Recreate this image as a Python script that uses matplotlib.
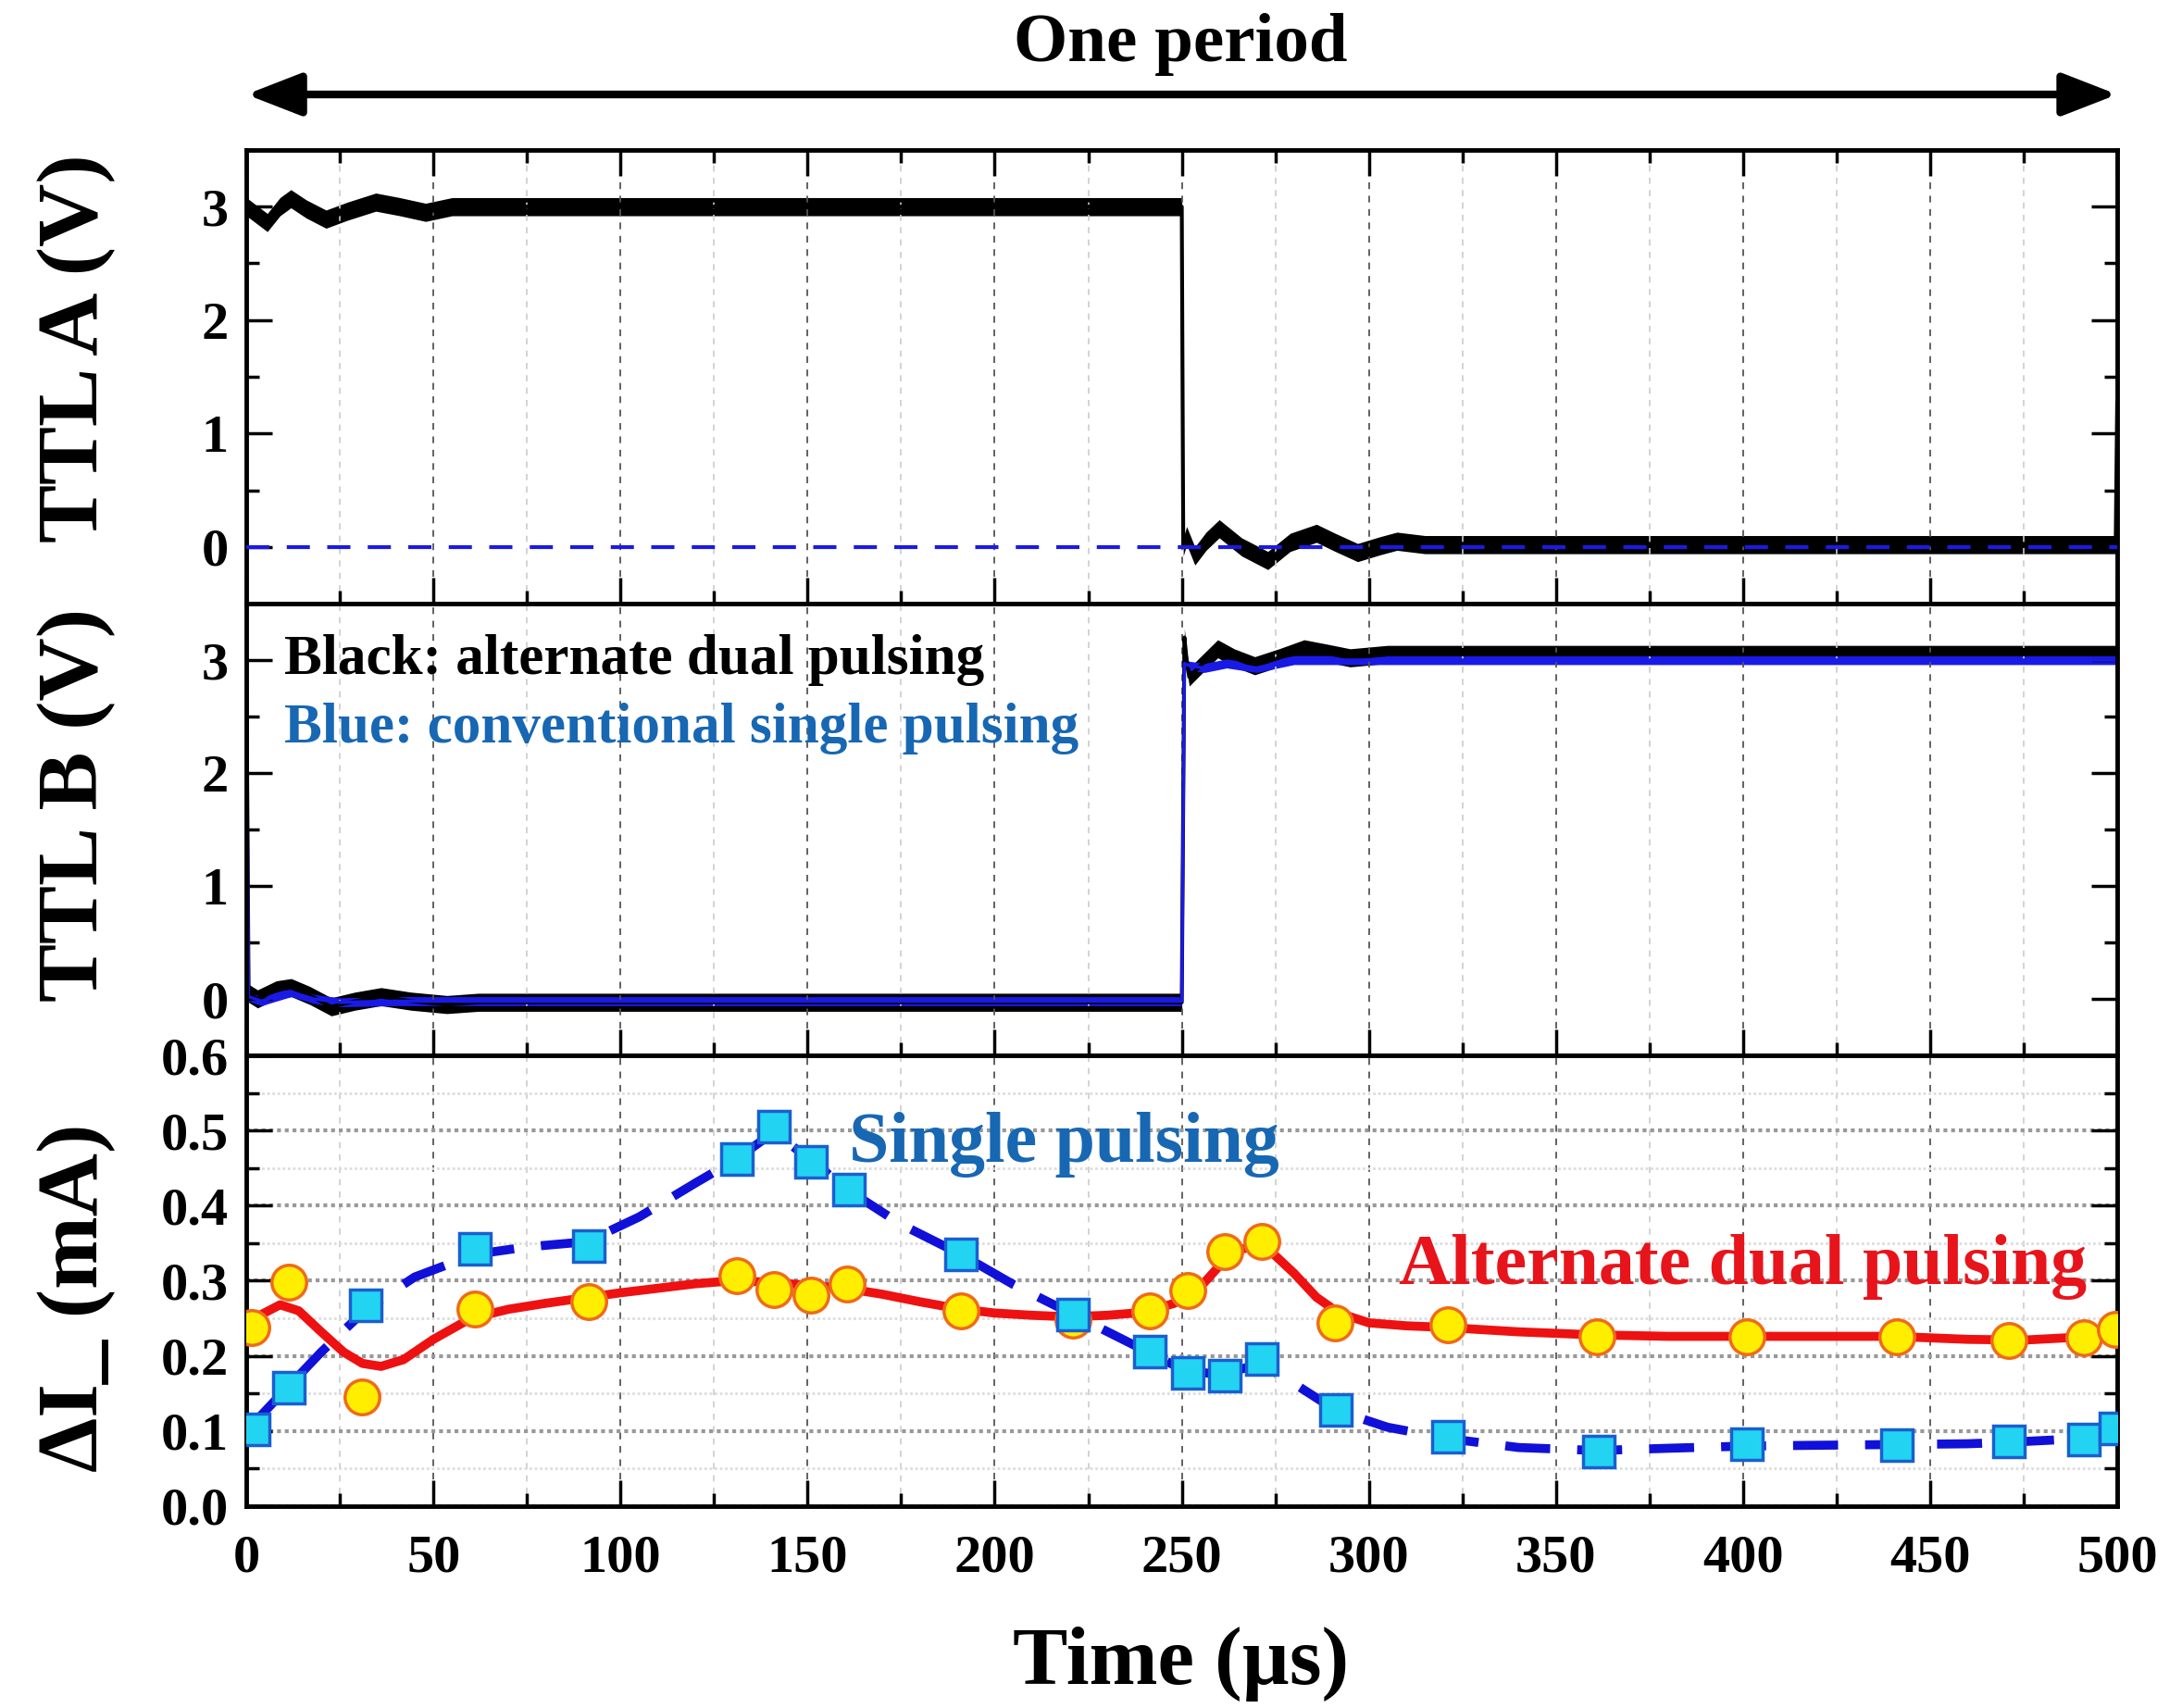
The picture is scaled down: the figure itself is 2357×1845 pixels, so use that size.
import numpy as np
import matplotlib
matplotlib.use('Agg')
import matplotlib.pyplot as plt
from matplotlib.ticker import MultipleLocator, FormatStrFormatter

plt.rcParams['font.family'] = ['Liberation Serif', 'DejaVu Serif']
plt.rcParams['font.weight'] = 'bold'

# ---- TTL A (top panel) ----
ttl_a_t = [0, 2, 5.6, 9, 11.9, 16, 21.3, 27, 34.6, 41, 47.9, 55, 250, 250.4, 251.3, 253.5,
           256.5, 260, 266, 273, 279, 286, 291, 297, 303, 307.5, 315, 499.6, 500]
ttl_a_v = [3.0, 2.95, 2.86, 3.0, 3.07, 2.98, 2.89, 2.96, 3.04, 3.0, 2.95, 3.0, 3.0, 0.0, 0.1, -0.08,
           0.05, 0.16, 0.0, -0.12, 0.04, 0.12, 0.04, -0.05, 0.01, 0.05, 0.02, 0.02, 1.27]
ttl_a_single_t = [0, 500]
ttl_a_single_v = [0, 0]

# ---- TTL B (middle panel) ----
ttl_b_t = [0, 0.6, 3, 8, 12, 17, 22.7, 29, 36, 44, 53.6, 62, 250, 250.7, 251.3, 252, 255,
           259.6, 264, 269.5, 276, 282.7, 289, 295, 305, 500]
ttl_b_v = [3.05, 0.05, 0.0, 0.08, 0.1, 0.03, -0.07, -0.02, 0.02, -0.02, -0.05, -0.03, -0.03, 3.2,
           3.0, 2.85, 2.95, 3.1, 3.02, 2.95, 3.02, 3.1, 3.06, 3.02, 3.05, 3.05]
ttl_b_single_t = [0, 0.6, 4, 8, 12, 18, 25, 40, 250, 250.7, 252, 256, 262, 270, 280, 290, 500]
ttl_b_single_v = [3.0, 0.02, -0.02, 0.02, 0.06, 0.0, -0.03, -0.02, -0.02, 2.97, 2.95, 2.93, 2.97,
                  2.93, 3.0, 3.0, 3.0]

# ---- delta I (bottom panel) ----
dual_t = [1.5, 11.4, 31, 61, 91.5, 131, 141, 151, 160.6, 191, 221, 241.5, 251.5, 261.6, 271.4,
          291, 321, 361, 401, 441, 471, 491, 499.5]
dual_v = [0.238, 0.298, 0.145, 0.262, 0.272, 0.307, 0.288, 0.281, 0.296, 0.260, 0.248, 0.260,
          0.287, 0.339, 0.352, 0.244, 0.242, 0.226, 0.226, 0.226, 0.221, 0.224, 0.235]
single_t = [2, 11.4, 31.8, 61, 91.5, 131, 141, 151, 161, 191, 221, 241.5, 251.5, 261.6, 271.4,
            291.2, 321, 361.5, 401, 441, 471, 491, 499.5]
single_v = [0.102, 0.158, 0.267, 0.343, 0.346, 0.462, 0.505, 0.458, 0.421, 0.335, 0.255, 0.206,
            0.177, 0.174, 0.196, 0.128, 0.092, 0.073, 0.083, 0.081, 0.086, 0.089, 0.103]

# guide curves drawn through the points
dual_fit_t = [0, 4, 9, 14, 20, 26, 31, 36, 42, 50, 60, 70, 80, 90, 100, 110, 120, 130, 140, 150,
              160, 170, 180, 190, 200, 210, 220, 230, 240, 248, 255, 261, 266, 270, 274, 280, 286,
              292, 300, 310, 320, 340, 360, 380, 400, 420, 440, 460, 475, 490, 500]
dual_fit_v = [0.236, 0.255, 0.268, 0.260, 0.232, 0.205, 0.190, 0.186, 0.195, 0.222, 0.250, 0.262,
              0.270, 0.277, 0.284, 0.290, 0.296, 0.300, 0.298, 0.294, 0.290, 0.282, 0.272, 0.263,
              0.257, 0.254, 0.252, 0.254, 0.258, 0.270, 0.292, 0.325, 0.342, 0.347, 0.338, 0.310,
              0.278, 0.257, 0.244, 0.240, 0.238, 0.232, 0.228, 0.226, 0.226, 0.226, 0.226, 0.222,
              0.221, 0.225, 0.232]
single_fit_t = [0, 11, 20, 32, 45, 61, 75, 91, 105, 120, 131, 141, 151, 161, 175, 191, 205, 221,
                241, 251, 261, 271, 281, 291, 305, 321, 340, 361, 380, 401, 420, 441, 460, 471,
                491, 500]
single_fit_v = [0.10, 0.158, 0.205, 0.262, 0.305, 0.335, 0.345, 0.352, 0.385, 0.43, 0.462, 0.498,
                0.46, 0.42, 0.375, 0.335, 0.295, 0.255, 0.205, 0.18, 0.175, 0.19, 0.16, 0.128,
                0.105, 0.09, 0.078, 0.074, 0.077, 0.08, 0.081, 0.082, 0.083, 0.085, 0.09, 0.10]

fig = plt.figure(figsize=(23.57, 18.45), dpi=100)
left, width = 0.1129, 0.8574
ax1 = fig.add_axes([left, 0.6466, width, 0.2656])
ax2 = fig.add_axes([left, 0.3821, width, 0.2645])
ax3 = fig.add_axes([left, 0.1182, width, 0.2639])

BLUE_TXT = '#1767b3'

def style(ax, top=False):
    ax.set_xlim(0, 500)
    ax.xaxis.set_major_locator(MultipleLocator(50))
    ax.xaxis.set_minor_locator(MultipleLocator(25))
    ax.tick_params(which='major', direction='in', length=20, width=2.5, labelsize=42,
                   top=top, right=True, pad=14)
    ax.tick_params(which='minor', direction='in', length=10, width=2.5, top=top, right=True)
    ax.tick_params(axis='x', pad=22)
    for s in ax.spines.values():
        s.set_linewidth(3.5)
    ax.grid(axis='x', which='major', color='#555555', ls=(0, (4, 4)), lw=1.3)
    ax.grid(axis='x', which='minor', color='#cccccc', ls=(0, (4, 4)), lw=1.2)

# top panel
ax1.fill_between(ttl_a_t, np.array(ttl_a_v) - 0.08, np.array(ttl_a_v) + 0.08, color='black', lw=0)
ax1.plot(ttl_a_t, ttl_a_v, color='black', lw=3)
ax1.plot(ttl_a_single_t, ttl_a_single_v, color='#1a1ae6', lw=3, dashes=(6, 4.5), zorder=3)
ax1.set_ylim(-0.5, 3.5)
ax1.yaxis.set_major_locator(MultipleLocator(1))
ax1.yaxis.set_minor_locator(MultipleLocator(0.5))
style(ax1, top=True)
ax1.set_xticklabels([])

# middle panel
ax2.fill_between(ttl_b_t, np.array(ttl_b_v) - 0.08, np.array(ttl_b_v) + 0.08, color='black', lw=0)
ax2.plot(ttl_b_t, ttl_b_v, color='black', lw=3)
ax2.fill_between(ttl_b_single_t, np.array(ttl_b_single_v) - 0.04,
                 np.array(ttl_b_single_v) + 0.04, color='#1a1ae6', lw=0)
ax2.plot(ttl_b_single_t, ttl_b_single_v, color='#1a1ae6', lw=2.5)
ax2.set_ylim(-0.5, 3.5)
ax2.yaxis.set_major_locator(MultipleLocator(1))
ax2.yaxis.set_minor_locator(MultipleLocator(0.5))
style(ax2)
ax2.set_xticklabels([])
ax2.text(10, 3.0, 'Black: alternate dual pulsing', fontsize=44, fontweight='bold',
         color='black', va='center')
ax2.text(10, 2.39, 'Blue: conventional single pulsing', fontsize=44, fontweight='bold',
         color=BLUE_TXT, va='center')

# bottom panel
ax3.plot(dual_fit_t, dual_fit_v, color='#ee1111', lw=7, zorder=3)
ax3.plot(single_fit_t, single_fit_v, color='#1010d8', lw=7, dashes=(5, 3), zorder=4)
ax3.plot(dual_t, dual_v, 'o', ms=27, mfc='#ffee00', mec='#f06a1a', mew=2.5, zorder=5)
ax3.plot(single_t, single_v, 's', ms=25, mfc='#22d4f2', mec='#1a5fd0', mew=2.5, zorder=6)
ax3.set_ylim(0, 0.6)
ax3.yaxis.set_major_locator(MultipleLocator(0.1))
ax3.yaxis.set_minor_locator(MultipleLocator(0.05))
ax3.yaxis.set_major_formatter(FormatStrFormatter('%.1f'))
style(ax3)
ax3.grid(axis='y', which='major', color='#999999', ls=(0, (1, 1)), lw=3)
ax3.grid(axis='y', which='minor', color='#dddddd', ls=(0, (1, 1)), lw=2)
ax3.text(161, 0.481, 'Single pulsing', fontsize=56, fontweight='bold', color=BLUE_TXT, va='center')
ax3.text(308, 0.319, 'Alternate dual pulsing', fontsize=56, fontweight='bold', color='#e8141b',
         va='center')

# axis titles
fig.text(0.035, 0.796, 'TTL A (V)', rotation=90, fontsize=68, fontweight='bold', ha='center', va='center')
fig.text(0.035, 0.529, 'TTL B (V)', rotation=90, fontsize=68, fontweight='bold', ha='center', va='center')
fig.text(0.035, 0.240, 'ΔI_ (mA)', rotation=90, fontsize=68, fontweight='bold', ha='center', va='center')
fig.text(0.541, 0.026, 'Time (µs)', fontsize=64, fontweight='bold', ha='center', va='center')

# period arrow
fig.text(0.541, 0.974, 'One period', fontsize=54, fontweight='bold', ha='center', va='center')
ax1.annotate('', xy=(0.9703, 0.9447), xycoords='figure fraction',
             xytext=(0.1129, 0.9447), textcoords='figure fraction',
             arrowprops=dict(arrowstyle='<|-|>,head_length=1.8,head_width=0.7', lw=6,
                             color='black', mutation_scale=20, shrinkA=0, shrinkB=0))

fig.savefig('out.png', dpi=100)
